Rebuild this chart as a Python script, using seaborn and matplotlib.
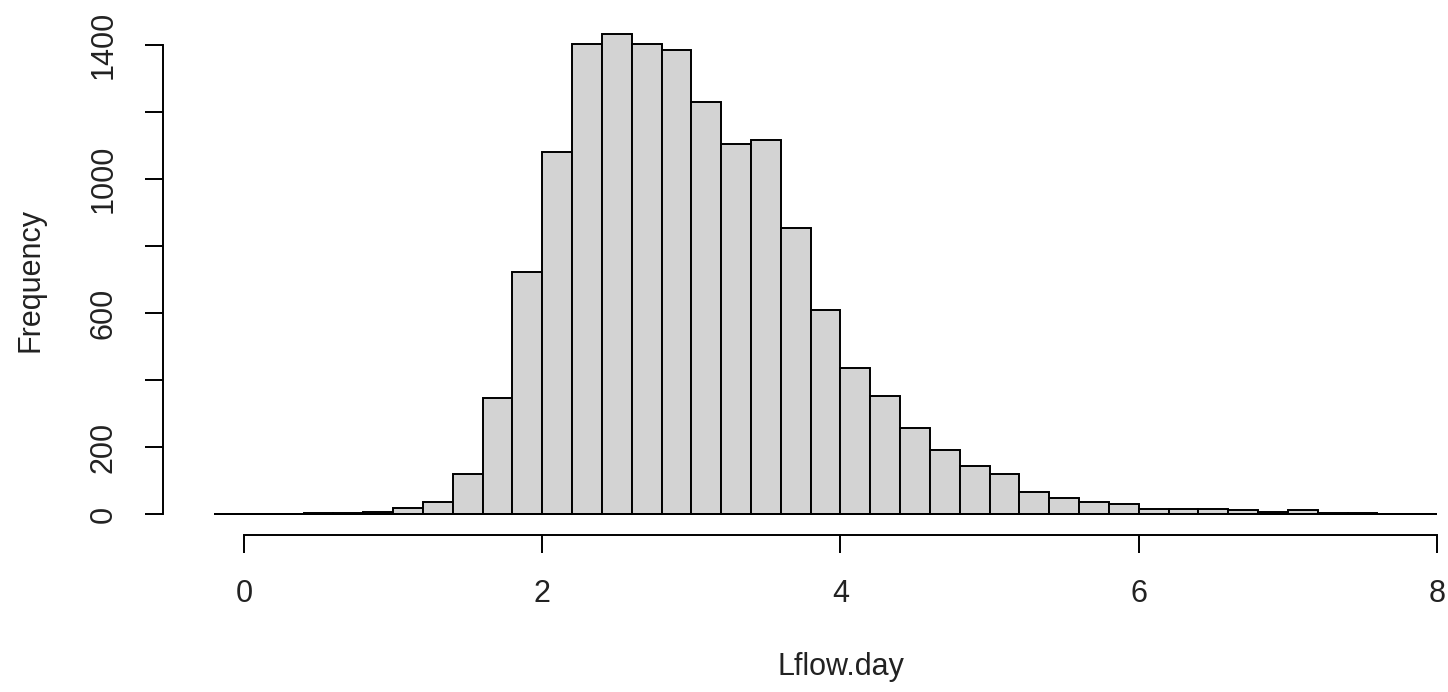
import numpy as np
import pandas as pd
import matplotlib
matplotlib.use("Agg")
import matplotlib.pyplot as plt
import seaborn as sns

# Bin edges (width 0.2, from -0.2 to 8.0) and counts
bin_edges = [round(-0.2 + 0.2 * i, 1) for i in range(42)]
counts = [0, 0, 0, 3, 4, 5, 17, 35, 120, 346,
          722, 1080, 1403, 1433, 1403, 1385, 1231, 1104, 1116, 854,
          609, 436, 352, 257, 191, 143, 119, 66, 48, 36,
          30, 16, 16, 16, 12, 5, 12, 3, 3, 0,
          0]
x_ticks = [0, 2, 4, 6, 8]
y_ticks = [0, 200, 400, 600, 800, 1000, 1200, 1400]
y_tick_labels = ["0", "200", "", "600", "", "1000", "", "1400"]
x_label = "Lflow.day"
y_label = "Frequency"

sns.set_style("white")
plt.rcParams["font.family"] = ["Liberation Sans", "DejaVu Sans"]

centers = [(bin_edges[i] + bin_edges[i + 1]) / 2 for i in range(len(counts))]
df = pd.DataFrame({"x": centers, "w": counts})

W, H = 1448, 692
fig = plt.figure(figsize=(W / 100, H / 100), dpi=100)
left_px, right_px, top_px, bot_px = 150, 1445, 20, 545
ax = fig.add_axes([left_px / W, 1 - bot_px / H, (right_px - left_px) / W, (bot_px - top_px) / H])

sns.histplot(data=df, x="x", weights="w", bins=bin_edges, stat="count",
             color="#D3D3D3", edgecolor="black", linewidth=1.4, alpha=1,
             ax=ax)
ax.hlines(0, bin_edges[0], bin_edges[-1], color="black", linewidth=1.4, zorder=3)

# scale: x 0 -> px 244, 8 -> px 1437 ; y 0 -> px 514, 1400 -> px 45
ppu_x = (1437 - 244) / 8
ppu_y = (514 - 45) / 1400
ax.set_xlim((left_px - 244) / ppu_x, (right_px - 244) / ppu_x)
ax.set_ylim(-(bot_px - 514) / ppu_y, (514 - top_px) / ppu_y)

for s in ["top", "right"]:
    ax.spines[s].set_visible(False)
ax.spines["left"].set_position(("data", (163 - 244) / ppu_x))
ax.spines["bottom"].set_position(("data", -(535 - 514) / ppu_y))
ax.spines["left"].set_bounds(0, 1400)
ax.spines["bottom"].set_bounds(0, 8)
for s in ["left", "bottom"]:
    ax.spines[s].set_linewidth(1.4)
    ax.spines[s].set_color("black")

ax.set_xticks(x_ticks)
ax.set_xticklabels([str(t) for t in x_ticks])
ax.set_yticks(y_ticks)
ax.set_yticklabels(y_tick_labels)
ax.tick_params(axis="both", direction="out", length=13, width=1.4, color="black",
               labelsize=22, labelcolor="#222222", pad=19, left=True, bottom=True)
plt.setp(ax.get_yticklabels(), rotation=90, va="center")

ax.set_xlabel(x_label, fontsize=22, color="#222222")
ax.set_ylabel(y_label, fontsize=22, color="#222222")
ax.xaxis.set_label_coords(((1437 + 244) / 2 - left_px) / (right_px - left_px), -(667 - bot_px) / (bot_px - top_px))
ax.xaxis.label.set_va("center")
ax.yaxis.set_label_coords((30 - left_px) / (right_px - left_px), (514 - (514 + 45) / 2 + (bot_px - 514)) / (bot_px - top_px))
ax.yaxis.label.set_va("center")

fig.savefig("out.png", dpi=100, facecolor="white")
